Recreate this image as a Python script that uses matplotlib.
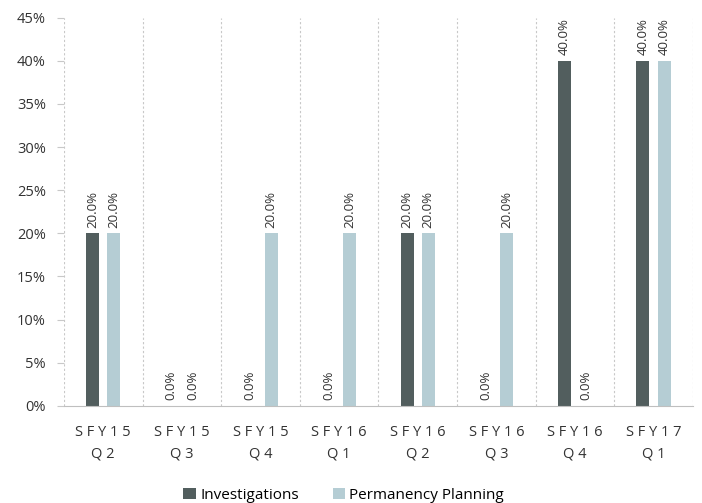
import matplotlib.pyplot as plt
import numpy as np

plt.rcParams['font.family'] = ['Open Sans', 'DejaVu Sans']

quarters = ['SFY15\nQ2', 'SFY15\nQ3', 'SFY15\nQ4', 'SFY16\nQ1',
            'SFY16\nQ2', 'SFY16\nQ3', 'SFY16\nQ4', 'SFY17\nQ1']
investigations = [20.0, 0.0, 0.0, 0.0, 20.0, 0.0, 40.0, 40.0]
permanency = [20.0, 0.0, 20.0, 20.0, 20.0, 20.0, 0.0, 40.0]

dark = '#525e5e'
light = '#b5cdd4'

fig = plt.figure(figsize=(7.02, 5.03), dpi=100)
ax = fig.add_axes([0.091, 0.193, 0.896, 0.772])

x = np.arange(len(quarters))
w = 0.165
off = 0.135
ax.bar(x - off, investigations, w, color=dark, label='Investigations')
ax.bar(x + off, permanency, w, color=light, label='Permanency Planning')

for xs, vals in [(x - off, investigations), (x + off, permanency)]:
    for xi, v in zip(xs, vals):
        ax.annotate('%.1f%%' % v, (xi, v), xytext=(0, 4), textcoords='offset points',
                    rotation=90, ha='center', va='bottom', fontsize=9.5,
                    color='#333333')

ax.set_xlim(-0.5, len(quarters) - 0.5)
ax.set_ylim(0, 45)
ax.set_yticks(range(0, 46, 5))
ax.set_yticklabels(['%d%%' % t for t in range(0, 46, 5)], fontsize=10.5, color='#333333')

# vertical separators between categories
for b in np.arange(-0.5, len(quarters), 1.0):
    ax.axvline(b, color='#c8c8c8', lw=0.8, ls=(0, (2, 2)), zorder=0)

spaced = ['\n'.join(' '.join(part) for part in q.split('\n')) for q in quarters]
ax.set_xticks(x)
ax.set_xticklabels(spaced, fontsize=10.5, color='#333333', linespacing=1.6)
ax.tick_params(axis='x', length=0, pad=14)
ax.tick_params(axis='y', length=5, color='#c8c8c8', pad=8)

for s in ['top', 'right', 'left']:
    ax.spines[s].set_visible(False)
ax.spines['bottom'].set_color('#bfbfbf')

ax.legend(loc='upper center', bbox_to_anchor=(0.445, -0.175), ncol=2, frameon=False,
          fontsize=11, handlelength=0.8, handleheight=0.8, handletextpad=0.3,
          columnspacing=2.2)

fig.savefig('out.png', dpi=100)
